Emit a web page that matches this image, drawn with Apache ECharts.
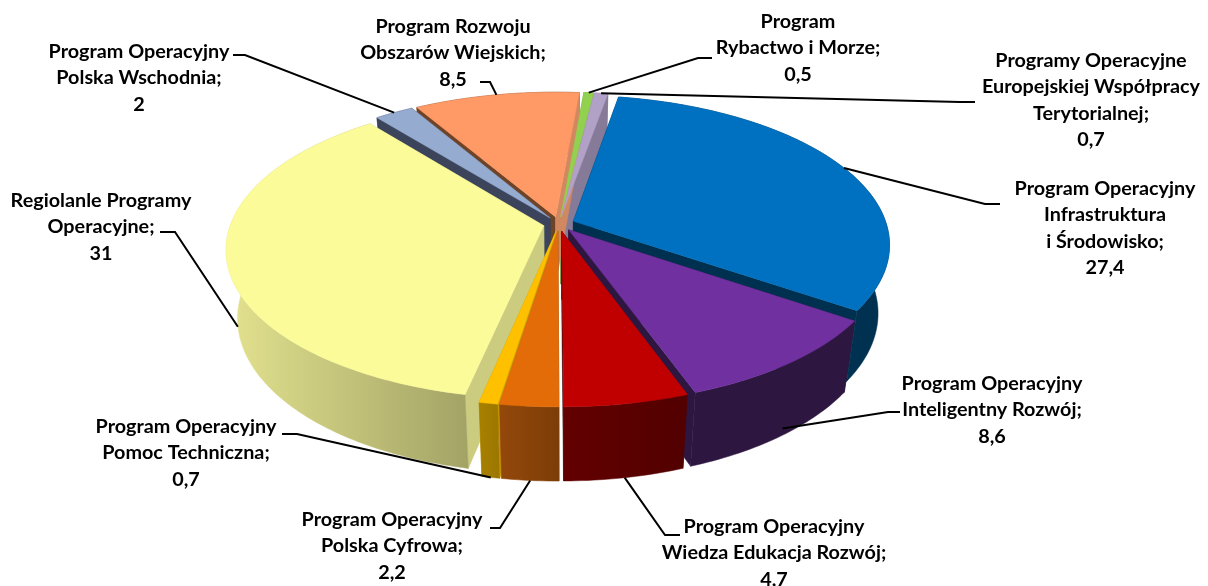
<!DOCTYPE html>
<html>
<head>
<meta charset="utf-8">
<script src="https://cdn.jsdelivr.net/npm/echarts@6/dist/echarts.min.js"></script>
<style>
    html, body { margin: 0; padding: 0; background: #fff; }
    #chart { width: 1208px; height: 586px; }
</style>
</head>
<body>
<div id="chart"></div>
<script>
'use strict';

// clockwise from the top, in the order Excel laid them out
const categories = [
    'Program Operacyjny\nInfrastruktura\ni Środowisko',
    'Program Operacyjny\nInteligentny Rozwój',
    'Program Operacyjny\nWiedza Edukacja Rozwój',
    'Program Operacyjny\nPolska Cyfrowa',
    'Program Operacyjny\nPomoc Techniczna',
    'Regiolanle Programy\nOperacyjne',
    'Program Operacyjny\nPolska Wschodnia',
    'Program Rozwoju\nObszarów Wiejskich',
    'Program\nRybactwo i Morze',
    'Programy Operacyjne\nEuropejskiej Współpracy\nTerytorialnej'
];
const seriesValues = [27.4, 8.6, 4.7, 2.2, 0.7, 31, 2, 8.5, 0.5, 0.7];
const valueLabels = ['27,4', '8,6', '4,7', '2,2', '0,7', '31', '2', '8,5', '0,5', '0,7'];

const topColors = ['#0070C0', '#7030A0', '#C00000', '#E36C09', '#FFC000', '#FBFB9A', '#95ABD0', '#FF9966', '#92D050', '#B2A1C7'];
const startWallColors = ['#00304F', '#2D1640', '#2D1640', '#8A4408', '#C89A00', '#CCCC80', '#3B445A', '#6E4326', '#6C9A3A', '#857A97'];
const endWallColors = ['#00304F', '#2D1640', '#3F0000', '#C86010', '#C89A00', '#CCCC80', '#3B445A', '#D08860', '#7CB044', '#857A97'];
const rimLeft = ['#003A63', '#2D1640', '#630000', '#94480B', '#A88000', '#E2E28F', '#3B445A', '#6E4326', '#6C9A3A', '#857A97'];
const rimRight = ['#00304F', '#2D1640', '#520000', '#7C3D07', '#9B7700', '#A3A366', '#3B445A', '#6E4326', '#6C9A3A', '#857A97'];

// label centre x, centre y, leader elbow x, elbow y, leader end x
const labelLayout = [
    [1105, 228, 985, 204, 1000],
    [992, 410, 888, 412, 900],
    [774, 553, 665, 535, 680],
    [392, 546, 500, 528, 490],
    [186, 453, 297, 434, 282],
    [101, 227, 175, 232, 160],
    [139, 78, 245, 55, 233],
    [453, 53, 490, 82, 480],
    [798, 48, 698, 58, 712],
    [1091, 100, 960, 102, 975]
];
// how far down the side wall the leader lands (0 rim, 1 bottom)
const leaderDrop = [0, 0.9, 1, 1, 1, 0.95, 0, 0, 0, 0];

const cx = 559, cy = 224, radius = 313, radiusY = 146;
const persp = 0.154, wallH = 70, bottomScale = 1.036, explode = 0.05, firstAngle = 10;

const total = seriesValues.reduce(function (a, b) { return a + b; }, 0);
let angles = [];
let acc = firstAngle;
seriesValues.forEach(function (v) {
    let sweep = v / total * 360;
    angles.push([acc, acc + sweep]);
    acc += sweep;
});

let project = function (px, py, drop) {
    let s = 1 + (bottomScale - 1) * drop;
    let w = (1 - persp * py) * s;
    return [cx + radius * px / w, cy + (radiusY * py + wallH * drop) / w];
};

// point of slice i on the pie plane; r = 0 gives its apex
let slicePoint = function (i, deg, r, drop) {
    let mid = (angles[i][0] + angles[i][1]) / 2 * Math.PI / 180;
    let t = deg * Math.PI / 180;
    return project(r * Math.sin(t) + explode * Math.sin(mid), -r * Math.cos(t) - explode * Math.cos(mid), drop);
};

let rimPoints = function (i, drop) {
    let pts = [];
    let a = angles[i][0], b = angles[i][1];
    let n = Math.max(2, Math.ceil(b - a));
    for (let k = 0; k <= n; k++) {
        pts.push(slicePoint(i, a + (b - a) * k / n, 1, drop));
    }
    return pts;
};

let renderSlice = function (params, api) {
    let i = params.dataIndex;
    let value = api.value(0);
    let a = angles[i][0], b = angles[i][1];
    let mid = (a + b) / 2 * Math.PI / 180;
    // walls painted back to front, all tops after them
    let depth = Math.round(50 - 40 * Math.cos(mid));
    let top = rimPoints(i, 0);
    let bottom = rimPoints(i, 1);
    let apexTop = slicePoint(i, a, 0, 0);
    let apexBottom = slicePoint(i, a, 0, 1);
    let children = [];
    let wall = function (shapePts, fill, z) {
        children.push({ type: 'polygon', z2: z, shape: { points: shapePts }, style: { fill: fill, stroke: fill, lineWidth: 0.5 } });
    };
    wall([apexTop, top[0], bottom[0], apexBottom], startWallColors[i], depth);
    wall([apexTop, top[top.length - 1], bottom[bottom.length - 1], apexBottom], endWallColors[i], depth);
    let xs = top.concat(bottom).map(function (p) { return p[0]; });
    // rim walls of the back slices face away, keep them under everything
    wall(top.concat(bottom.slice().reverse()), {
        type: 'linear', global: true,
        x: Math.min.apply(null, xs), y: 0, x2: Math.max.apply(null, xs), y2: 0,
        colorStops: [{ offset: 0, color: rimLeft[i] }, { offset: 1, color: rimRight[i] }]
    }, Math.cos(mid) > 0.3 ? 1 : depth + 1);
    children.push({
        type: 'polygon', z2: 100,
        shape: { points: [apexTop].concat(top) },
        style: { fill: topColors[i], stroke: topColors[i], lineWidth: 0.5 }
    });

    let lay = labelLayout[i];
    let anchor = slicePoint(i, (a + b) / 2, 1, leaderDrop[i]);
    children.push({
        type: 'polyline', z2: 200,
        shape: { points: [anchor, [lay[2], lay[3]], [lay[4], lay[3]]] },
        style: { fill: 'none', stroke: '#000', lineWidth: 2 }
    });
    children.push({
        type: 'text', z2: 300,
        style: {
            text: categories[i] + ';\n' + valueLabels[i],
            x: lay[0], y: lay[1],
            align: 'center', verticalAlign: 'middle',
            fill: '#000', lineHeight: 26.5,
            font: 'bold 19.8px Lato, "Noto Sans", sans-serif'
        }
    });
    return { type: 'group', info: value, children: children };
};

let myChart = echarts.init(document.getElementById('chart'));
myChart.setOption({
    animation: false,
    backgroundColor: '#fff',
    series: [{
        type: 'custom',
        coordinateSystem: 'none',
        silent: true,
        renderItem: renderSlice,
        data: seriesValues
    }]
});
</script>
</body>
</html>
